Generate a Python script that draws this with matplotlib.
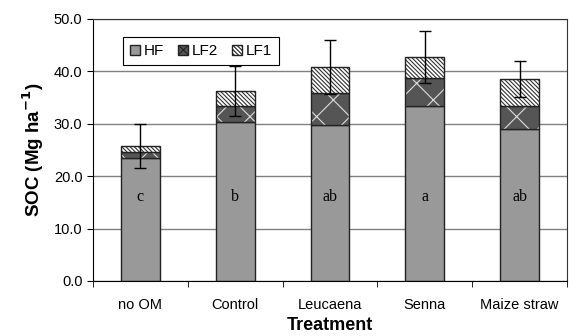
import numpy as np
import matplotlib.pyplot as plt
from matplotlib.patches import Patch

plt.rcParams['font.family'] = ['Liberation Sans', 'DejaVu Sans']
plt.rcParams['hatch.linewidth'] = 0.8

# данные
treatments = ['no OM', 'Control', 'Leucaena', 'Senna', 'Maize straw']
hf = [23.5, 30.4, 29.8, 33.3, 29.1]
lf2 = [1.2, 3.0, 6.0, 5.4, 4.2]
lf1 = [1.1, 2.9, 5.0, 4.1, 5.2]
err = [4.2, 4.8, 5.1, 5.0, 3.4]
letters = ['c', 'b', 'ab', 'a', 'ab']

x = np.arange(len(treatments))
w = 0.41
hf = np.array(hf)
lf2 = np.array(lf2)
lf1 = np.array(lf1)
total = hf + lf2 + lf1

fig = plt.figure(figsize=(5.69, 3.36), dpi=100)
ax = fig.add_axes([0.1634, 0.1637, 0.8331, 0.7798])

ax.set_axisbelow(True)
ax.yaxis.grid(True, color='#808080', linewidth=1.0)

# HF
ax.bar(x, hf, w, color='#999999', edgecolor='#222222', linewidth=1.0)
# LF2: тёмный фон с белой сеткой
ax.bar(x, lf2, w, bottom=hf, color='#555555', edgecolor='#dddddd', hatch='x', linewidth=0)
ax.bar(x, lf2, w, bottom=hf, fill=False, edgecolor='#222222', linewidth=1.0)
# LF1: косая штриховка
ax.bar(x, lf1, w, bottom=hf + lf2, color='white', edgecolor='#333333', hatch='\\' * 8, linewidth=0)
ax.bar(x, lf1, w, bottom=hf + lf2, fill=False, edgecolor='#222222', linewidth=1.0)

ax.errorbar(x, total, yerr=err, fmt='none', ecolor='black', elinewidth=1.0, capsize=4, capthick=1.0)

for xi, t in zip(x, letters):
    ax.text(xi, 16, t, ha='center', va='center', fontsize=11.5, family='Liberation Serif')

# легенда
handles = [
    Patch(facecolor='#999999', edgecolor='#222222', label='HF'),
    Patch(facecolor='#555555', edgecolor='#222222', hatch='xxx', label='LF2'),
    Patch(facecolor='white', edgecolor='#222222', hatch='\\' * 8, label='LF1'),
]
leg = ax.legend(handles=handles, loc='upper left', bbox_to_anchor=(0.048, 0.96), ncol=3,
                fancybox=False, edgecolor='black', framealpha=1, fontsize=11,
                handlelength=0.65, handleheight=0.65, handletextpad=0.25, columnspacing=0.9,
                borderpad=0.45)
leg.get_frame().set_linewidth(0.8)

ax.set_xlim(-0.5, 4.5)
ax.set_ylim(0, 50)
ax.set_yticks(np.arange(0, 51, 10))
ax.set_yticklabels(['%.1f' % v for v in np.arange(0, 51, 10)], fontsize=10.5)
ax.set_xticks(x)
ax.set_xticklabels(treatments, fontsize=10.5)
ax.set_xticks(np.arange(-0.5, 5, 1), minor=True)
ax.tick_params(axis='x', which='major', length=0, pad=12)
ax.tick_params(axis='x', which='minor', length=4, direction='out')
ax.tick_params(axis='y', length=4, direction='out')

for s in ['left', 'bottom']:
    ax.spines[s].set_color('black')
for s in ['top', 'right']:
    ax.spines[s].set_color('#333333')

ax.set_xlabel('Treatment', fontsize=13, fontweight='bold', labelpad=4)
ax.set_ylabel('SOC (Mg ha$^{\\mathbf{-1}}$)', fontsize=13.5, fontweight='bold', labelpad=6)

fig.savefig('out.png', dpi=100)
